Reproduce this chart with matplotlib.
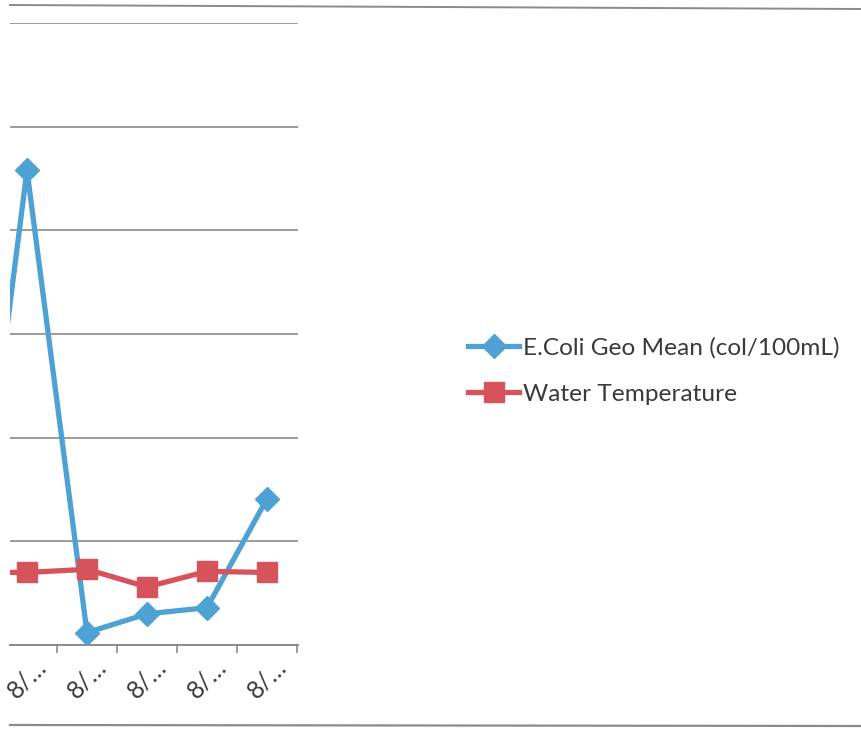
import matplotlib
matplotlib.use("Agg")
import matplotlib.pyplot as plt
from matplotlib.lines import Line2D

# data (first point sits just left of the crop)
dates = ['8/…', '8/…', '8/…', '8/…', '8/…', '8/…']
ecoli = [2, 458, 12, 30, 36, 141]
water_temp = [70, 70, 73, 56, 71, 70]
yticks = [0, 100, 200, 300, 400, 500, 600]

blue = '#4ea1d3'
red = '#d6535b'
grid_col = '#8a8a8a'
txt_col = '#3a3a3a'

plt.rcParams['font.family'] = ['Lato', 'DejaVu Sans']

W, H = 862, 730
fig = plt.figure(figsize=(W / 100, H / 100), dpi=100)

# plot area in pixels: x 10..298, y 23..645
ax = fig.add_axes([10 / W, 1 - 645 / H, (298 - 10) / W, (645 - 23) / H])

x = list(range(-1, len(dates) - 1))
ax.plot(x, ecoli, color=blue, lw=3.8, marker='D', markersize=12,
        label='E.Coli Geo Mean (col/100mL)', zorder=3, clip_on=True)
ax.plot(x, water_temp, color=red, lw=3.8, marker='s', markersize=14,
        label='Water Temperature', zorder=4, clip_on=True)

ax.set_yticks(yticks)
ax.yaxis.grid(True, color=grid_col, lw=1.2)
ax.set_axisbelow(True)
ax.tick_params(axis='y', left=False, labelleft=False)

ax.set_xticks(x)
ax.set_xticklabels(dates, rotation=45, ha='center', va='top',
                   fontsize=18, color=txt_col)
ax.tick_params(axis='x', length=0, pad=7)
# category boundary ticks
ax.set_xticks([i + 0.5 for i in range(0, 5)], minor=True)
ax.tick_params(axis='x', which='minor', length=6, width=1.2, color=grid_col,
               direction='out')

# limits after the ticks so the view is not widened
ax.set_xlim(-0.283, 4.517)
ax.set_ylim(0, 600)

for side in ['top', 'left', 'right']:
    ax.spines[side].set_visible(False)
ax.spines['bottom'].set_color(grid_col)
ax.spines['bottom'].set_linewidth(1.4)

# chart frame edges visible in the scan
fig.add_artist(Line2D([10 / W, 1], [1 - 5 / H, 1 - 9 / H],
                      color=grid_col, lw=1.4, transform=fig.transFigure))
fig.add_artist(Line2D([10 / W, 1], [1 - 725 / H, 1 - 726 / H],
                      color=grid_col, lw=1.6, transform=fig.transFigure))

handles, labels = ax.get_legend_handles_labels()
fig.legend(handles, labels, loc='center left',
           bbox_to_anchor=(468 / W, 1 - 371 / H), frameon=False,
           fontsize=17.6, handlelength=2.1, handletextpad=0.16,
           labelspacing=1.0, borderpad=0, borderaxespad=0,
           labelcolor=txt_col)

fig.savefig('out.png', dpi=100)
